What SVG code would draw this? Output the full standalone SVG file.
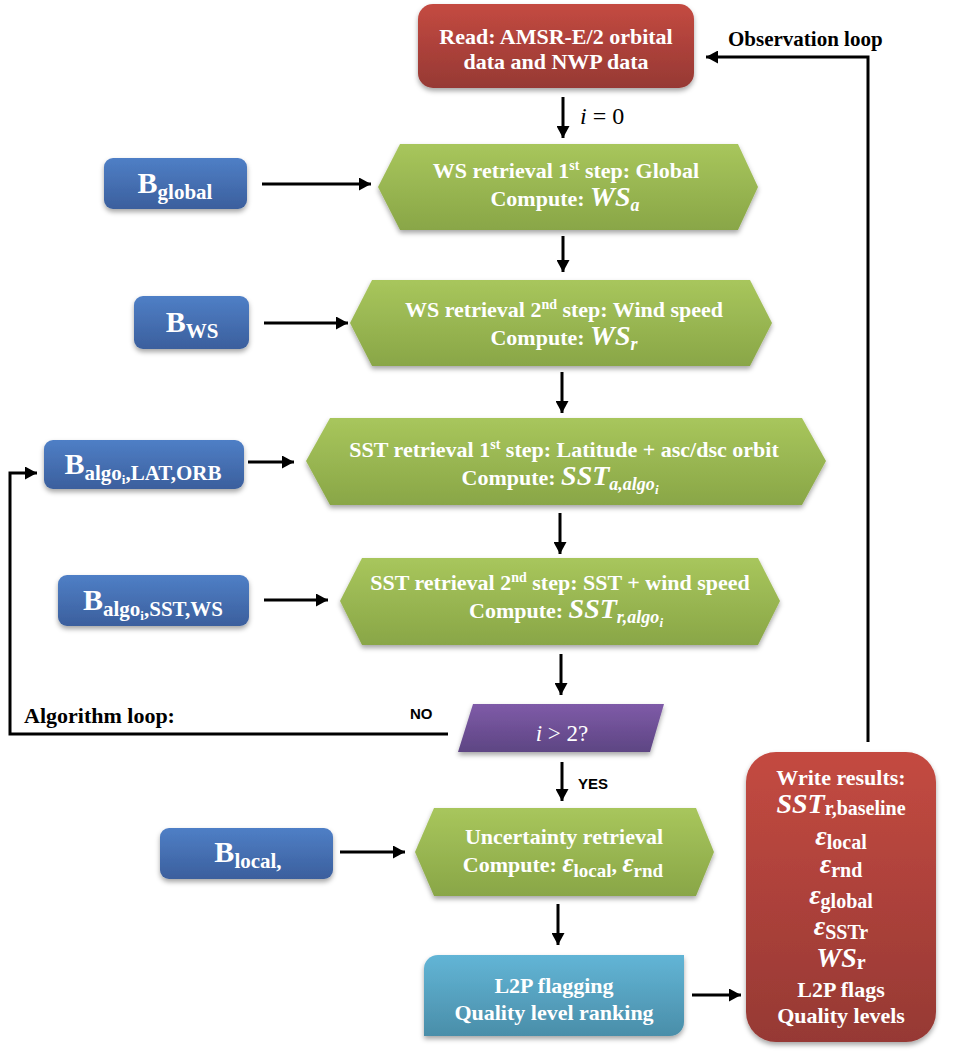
<svg xmlns="http://www.w3.org/2000/svg" width="960" height="1056" viewBox="0 0 960 1056">
<defs>
<linearGradient id="gRed" x1="0" y1="0" x2="0" y2="1"><stop offset="0" stop-color="#c44a41"/><stop offset="1" stop-color="#963934"/></linearGradient>
<linearGradient id="gBlue" x1="0" y1="0" x2="0" y2="1"><stop offset="0" stop-color="#4f7fc6"/><stop offset="1" stop-color="#3b5f9d"/></linearGradient>
<linearGradient id="gGreen" x1="0" y1="0" x2="0" y2="1"><stop offset="0" stop-color="#a8c65c"/><stop offset="1" stop-color="#89a647"/></linearGradient>
<linearGradient id="gPurple" x1="0" y1="0" x2="0" y2="1"><stop offset="0" stop-color="#7f5ba8"/><stop offset="1" stop-color="#5d4583"/></linearGradient>
<linearGradient id="gCyan" x1="0" y1="0" x2="0" y2="1"><stop offset="0" stop-color="#62b5d6"/><stop offset="1" stop-color="#4a8ea9"/></linearGradient>
<filter id="sh" x="-10%" y="-10%" width="120%" height="130%"><feDropShadow dx="0" dy="3" stdDeviation="2.5" flood-color="#000" flood-opacity="0.35"/></filter>
<marker id="ah" markerUnits="userSpaceOnUse" markerWidth="13" markerHeight="13" refX="12" refY="6.5" orient="auto"><path d="M0,0 L12,6.5 L0,13 z" fill="#000"/></marker>
<style>
.t{font-family:"Liberation Serif","Times New Roman",serif;font-weight:bold;fill:#fff;text-anchor:middle}
.m{font-style:italic}
.k{font-family:"Liberation Serif","Times New Roman",serif;font-weight:bold;fill:#000}
.n{font-family:"Liberation Serif","Times New Roman",serif;font-weight:normal}
.s{font-family:"Liberation Sans",Arial,sans-serif;font-weight:bold;fill:#000}
.ln{stroke:#000;stroke-width:3;fill:none}
.ar{stroke:#000;stroke-width:3;fill:none;marker-end:url(#ah)}
</style>
</defs>
<rect width="960" height="1056" fill="#fff"/>

<g id="connectors">
<line class="ar" x1="563" y1="97" x2="563" y2="138"/>
<line class="ar" x1="262" y1="184" x2="371" y2="184"/>
<line class="ar" x1="563" y1="236" x2="563" y2="272"/>
<line class="ar" x1="264" y1="323" x2="348" y2="323"/>
<line class="ar" x1="562" y1="372" x2="562" y2="413"/>
<line class="ar" x1="248" y1="462" x2="294" y2="462"/>
<line class="ar" x1="560" y1="513" x2="560" y2="554"/>
<line class="ar" x1="264" y1="600" x2="328" y2="600"/>
<line class="ar" x1="561" y1="654" x2="561" y2="695"/>
<polyline class="ar" points="448,734 10,734 10,473 37,473"/>
<line class="ar" x1="562" y1="762" x2="562" y2="801"/>
<line class="ar" x1="340" y1="852" x2="405" y2="852"/>
<line class="ar" x1="558" y1="904" x2="558" y2="945"/>
<line class="ar" x1="692" y1="995" x2="741" y2="995"/>
<polyline class="ar" points="868,742 868,57 706,57"/>
<text class="n" x="580" y="124" font-size="24" fill="#000"><tspan font-style="italic">i</tspan> = 0</text>
<text class="k" x="728" y="46" font-size="21">Observation loop</text>
<text class="k" x="24" y="723" font-size="22">Algorithm loop:</text>
<text class="s" x="410" y="719" font-size="15">NO</text>
<text class="s" x="578" y="789" font-size="15">YES</text>
</g>

<g id="read">
<rect x="418" y="4" width="276" height="84" rx="15" fill="url(#gRed)" filter="url(#sh)"/>
<text class="t" x="556" y="44" font-size="22">Read: AMSR-E/2 orbital</text>
<text class="t" x="556" y="69" font-size="22">data and NWP data</text>
</g>

<g id="bglobal">
<rect x="104" y="158" width="143" height="51" rx="9" fill="url(#gBlue)" filter="url(#sh)"/>
<text class="t" x="175" y="193" font-size="30">B<tspan font-size="21" dy="6">global</tspan></text>
</g>

<g id="ws1">
<polygon points="378,187 400,144 738,144 758,187 738,230 400,230" fill="url(#gGreen)" filter="url(#sh)"/>
<text class="t" x="566" y="178" font-size="22">WS retrieval 1<tspan font-size="14" dy="-8">st</tspan><tspan dy="8"> step: Global</tspan></text>
<text class="t" x="565" y="206" font-size="22">Compute: <tspan class="m" font-size="28">WS</tspan><tspan class="m" font-size="18" dy="5">a</tspan></text>
</g>

<g id="bws">
<rect x="134" y="296" width="115" height="53" rx="9" fill="url(#gBlue)" filter="url(#sh)"/>
<text class="t" x="192" y="332" font-size="30">B<tspan font-size="21" dy="6">WS</tspan></text>
</g>

<g id="ws2">
<polygon points="350,323 372,280 750,280 772,323 750,366 372,366" fill="url(#gGreen)" filter="url(#sh)"/>
<text class="t" x="564" y="317" font-size="22">WS retrieval 2<tspan font-size="14" dy="-8">nd</tspan><tspan dy="8"> step: Wind speed</tspan></text>
<text class="t" x="564" y="345" font-size="22">Compute: <tspan class="m" font-size="28">WS</tspan><tspan class="m" font-size="18" dy="5">r</tspan></text>
</g>

<g id="blat">
<rect x="44" y="440" width="200" height="49" rx="9" fill="url(#gBlue)" filter="url(#sh)"/>
<text class="t" x="143" y="474" font-size="30">B<tspan font-size="21" dy="6">algo</tspan><tspan font-size="13" dy="4">i</tspan><tspan font-size="21" dy="-4">,LAT,ORB</tspan></text>
</g>

<g id="sst1">
<polygon points="306,461 330,418 802,418 826,461 802,505 330,505" fill="url(#gGreen)" filter="url(#sh)"/>
<text class="t" x="564" y="457" font-size="22">SST retrieval 1<tspan font-size="14" dy="-8">st</tspan><tspan dy="8"> step: Latitude + asc/dsc orbit</tspan></text>
<text class="t" x="560" y="485" font-size="22">Compute: <tspan class="m" font-size="28">SST</tspan><tspan class="m" font-size="18" dy="5">a,algo</tspan><tspan class="m" font-size="13" dy="4">i</tspan></text>
</g>

<g id="bsst">
<rect x="58" y="575" width="191" height="51" rx="9" fill="url(#gBlue)" filter="url(#sh)"/>
<text class="t" x="153" y="610" font-size="30">B<tspan font-size="21" dy="6">algo</tspan><tspan font-size="13" dy="4">i</tspan><tspan font-size="21" dy="-4">,SST,WS</tspan></text>
</g>

<g id="sst2">
<polygon points="340,601 362,558 758,558 780,601 758,645 362,645" fill="url(#gGreen)" filter="url(#sh)"/>
<text class="t" x="560" y="590" font-size="22">SST retrieval 2<tspan font-size="14" dy="-8">nd</tspan><tspan dy="8"> step: SST + wind speed</tspan></text>
<text class="t" x="566" y="618" font-size="22">Compute: <tspan class="m" font-size="28">SST</tspan><tspan class="m" font-size="18" dy="5">r,algo</tspan><tspan class="m" font-size="13" dy="4">i</tspan></text>
</g>

<g id="decision">
<polygon points="473,704 664,704 650,752 458,752" fill="url(#gPurple)" filter="url(#sh)"/>
<text class="t n" x="562" y="741" font-size="23"><tspan font-style="italic">i</tspan> &gt; 2?</text>
</g>

<g id="blocal">
<rect x="160" y="828" width="173" height="51" rx="9" fill="url(#gBlue)" filter="url(#sh)"/>
<text class="t" x="248" y="862" font-size="30">B<tspan font-size="21" dy="6">local,</tspan></text>
</g>

<g id="unc">
<polygon points="415,852 434,808 696,808 714,852 696,896 434,896" fill="url(#gGreen)" filter="url(#sh)"/>
<text class="t" x="564" y="844" font-size="22">Uncertainty retrieval</text>
<text class="t" x="563" y="872" font-size="22">Compute: <tspan class="m" font-size="27">ε</tspan><tspan font-size="19" dy="5">local</tspan><tspan dy="-5">,  </tspan><tspan class="m" font-size="27">ε</tspan><tspan font-size="19" dy="5">rnd</tspan></text>
</g>

<g id="l2p">
<path d="M438,955 H684 V1022 A14,14 0 0 1 670,1036 H424 V969 A14,14 0 0 1 438,955 Z" fill="url(#gCyan)" filter="url(#sh)"/>
<text class="t" x="554" y="993" font-size="22">L2P flagging</text>
<text class="t" x="554" y="1020" font-size="22">Quality level ranking</text>
</g>

<g id="results">
<rect x="746" y="752" width="190" height="290" rx="30" fill="url(#gRed)" filter="url(#sh)"/>
<text class="t" x="841" y="785" font-size="22">Write results:</text>
<text class="t" x="841" y="813" font-size="22"><tspan class="m" font-size="28">SST</tspan><tspan font-size="20" dy="2">r,baseline</tspan></text>
<text class="t" x="841" y="845" font-size="22"><tspan class="m" font-size="28">ε</tspan><tspan font-size="20" dy="4">local</tspan></text>
<text class="t" x="841" y="873" font-size="22"><tspan class="m" font-size="28">ε</tspan><tspan font-size="20" dy="4">rnd</tspan></text>
<text class="t" x="841" y="904" font-size="22"><tspan class="m" font-size="28">ε</tspan><tspan font-size="20" dy="4">global</tspan></text>
<text class="t" x="841" y="935" font-size="22"><tspan class="m" font-size="28">ε</tspan><tspan font-size="20" dy="4">SSTr</tspan></text>
<text class="t" x="841" y="967" font-size="22"><tspan class="m" font-size="28">WS</tspan><tspan font-size="20" dy="2">r</tspan></text>
<text class="t" x="841" y="997" font-size="22">L2P flags</text>
<text class="t" x="841" y="1023" font-size="22">Quality levels</text>
</g>
</svg>
